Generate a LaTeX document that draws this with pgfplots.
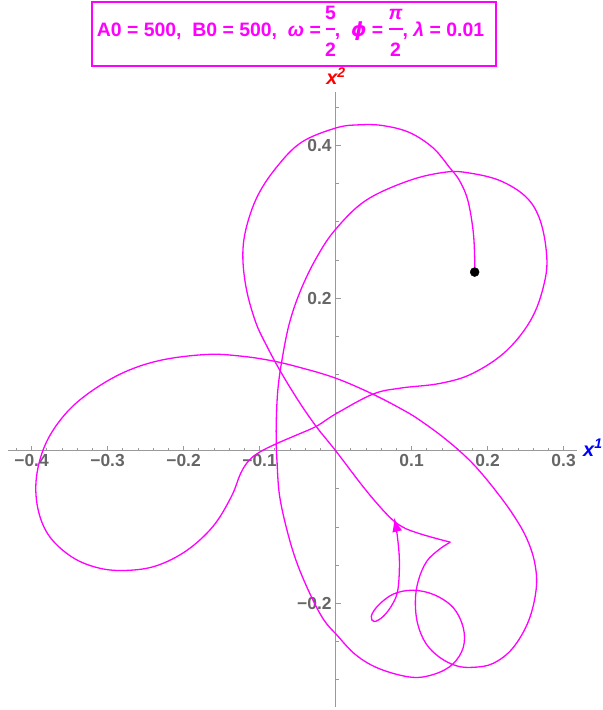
\documentclass[border=0pt]{standalone}
\usepackage{fontspec}
\setmainfont{Liberation Sans}
\newfontfamily\dejavu{DejaVu Sans}
\usepackage{pgfplots}
\pgfplotsset{compat=1.18}
\usetikzlibrary{arrows.meta}

\definecolor{traj}{rgb}{1,0,1}
\definecolor{axgray}{gray}{0.6}
\definecolor{labgray}{gray}{0.4}

% stacked fraction: numerator, bar, denominator
\newcommand{\fr}[3]{%
  \makebox[0pt][l]{\makebox[#3]{\raisebox{17.5bp}{#1}}}%
  \makebox[0pt][l]{\makebox[#3]{\raisebox{6.8bp}{\rule{#3}{1.9bp}}}}%
  \makebox[#3]{\raisebox{-20bp}{#2}}}

\begin{document}
\begin{tikzpicture}
\useasboundingbox (0,0) rectangle (603bp,710bp);
\begin{axis}[
  at={(8bp,3bp)}, anchor=south west,
  scale only axis, width=568.5bp, height=615bp,
  xmin=-0.431, xmax=0.317, ymin=-0.336, ymax=0.47,
  axis lines=middle, clip=false,
  axis line style={-, draw=axgray, line width=0.8bp},
  xtick={-0.4,-0.3,-0.2,-0.1,0.1,0.2,0.3},
  xticklabels={−0.4,−0.3,−0.2,−0.1,0.1,0.2,0.3},
  ytick={-0.2,0.2,0.4},
  yticklabels={−0.2,0.2,0.4},
  minor xtick={-0.42,-0.38,-0.36,-0.34,-0.32,-0.28,-0.26,-0.24,-0.22,-0.18,-0.16,-0.14,-0.12,-0.08,-0.06,-0.04,-0.02,0.02,0.04,0.06,0.08,0.12,0.14,0.16,0.18,0.22,0.24,0.26,0.28},
  minor ytick={-0.3,-0.25,-0.15,-0.1,-0.05,0.05,0.1,0.15,0.25,0.3,0.35,0.45},
  tick align=inside,
  major tick length=5bp, minor tick length=3bp,
  every tick/.style={draw=axgray, line width=0.6bp},
  ticklabel style={font=\bfseries\fontsize{17.5}{17.5}\selectfont, text=labgray},
  xticklabel style={anchor=north, yshift=-0.5bp},
  yticklabel style={anchor=east, xshift=-0.5bp},
  xlabel={\bfseries\itshape x\textsuperscript{1}},
  ylabel={\bfseries\itshape x\textsuperscript{2}},
  xlabel style={at={(axis description cs:1.0114,0.408)}, anchor=base west, inner sep=0pt,
    text=blue, font=\fontsize{20}{20}\selectfont},
  ylabel style={at={(axis description cs:0.577,1.0114)}, anchor=base, inner sep=0pt, rotate=0,
    text=red, font=\fontsize{20}{20}\selectfont},
]
% trajectory from the start point to the cusp
\addplot[traj, line width=1.3bp, smooth, tension=0.6] coordinates {
(0.183,0.234) (0.183,0.253) (0.181,0.288) (0.174,0.328) (0.163,0.354)
(0.150,0.371) (0.128,0.397) (0.097,0.417) (0.062,0.426) (0.032,0.427)
(0.001,0.423) (-0.045,0.404) (-0.078,0.371) (-0.103,0.333) (-0.118,0.290)
(-0.122,0.253) (-0.117,0.210) (-0.105,0.168) (-0.092,0.140) (-0.072,0.103)
(-0.048,0.064) (-0.025,0.031) (0,0) (0.040,-0.052) (0.070,-0.086)
(0.088,-0.100) (0.108,-0.108) (0.132,-0.115) (0.151,-0.120)
};
% trajectory from the cusp to the end point
\addplot[traj, line width=1.3bp, smooth, tension=0.6, -{Latex[length=14bp,width=10bp]}] coordinates {
(0.151,-0.120) (0.137,-0.129) (0.120,-0.145) (0.109,-0.170) (0.105,-0.197)
(0.108,-0.227) (0.119,-0.253) (0.137,-0.271) (0.159,-0.282) (0.181,-0.284)
(0.207,-0.279) (0.233,-0.259) (0.254,-0.223) (0.264,-0.181) (0.262,-0.147)
(0.251,-0.114) (0.233,-0.083) (0.211,-0.053) (0.187,-0.024) (0.166,-0.003)
(0.141,0.018) (0.115,0.037) (0.093,0.051) (0.049,0.074) (0,0.095)
(-0.047,0.109) (-0.085,0.118) (-0.126,0.124) (-0.170,0.126) (-0.232,0.118)
(-0.284,0.100) (-0.332,0.070) (-0.363,0.039) (-0.384,0.003) (-0.394,-0.039)
(-0.391,-0.079) (-0.376,-0.113) (-0.346,-0.140) (-0.311,-0.154) (-0.275,-0.157)
(-0.236,-0.151) (-0.196,-0.131) (-0.161,-0.099) (-0.137,-0.060) (-0.125,-0.030)
(-0.114,-0.013) (-0.100,-0.002) (-0.078,0.009) (-0.050,0.021) (-0.025,0.032)
(0,0.048) (0.049,0.074) (0.086,0.082) (0.137,0.088) (0.180,0.101)
(0.225,0.131) (0.259,0.175) (0.276,0.226) (0.277,0.264) (0.268,0.305)
(0.250,0.333) (0.216,0.354) (0.175,0.364) (0.145,0.365) (0.097,0.354)
(0.040,0.328) (0,0.290) (-0.025,0.253) (-0.046,0.210) (-0.061,0.166)
(-0.071,0.116) (-0.076,0.079) (-0.078,0.039) (-0.078,0.008) (-0.077,-0.015)
(-0.074,-0.057) (-0.065,-0.100) (-0.052,-0.144) (-0.034,-0.187) (-0.016,-0.221)
(0.002,-0.242) (0.027,-0.268) (0.058,-0.286) (0.100,-0.297) (0.130,-0.293)
(0.154,-0.280) (0.168,-0.258) (0.168,-0.232) (0.155,-0.206) (0.130,-0.189)
(0.102,-0.183) (0.076,-0.188) (0.056,-0.203) (0.047,-0.217) (0.051,-0.224)
(0.063,-0.217) (0.075,-0.201) (0.082,-0.182) (0.084,-0.145) (0.081,-0.110)
(0.077,-0.088)
};
% start point
\addplot[only marks, mark=*, mark size=4.5bp, black] coordinates {(0.183,0.234)};
\end{axis}
% parameter box
\draw[traj, line width=2.7bp] (92bp,644bp) rectangle (496bp,708bp);
\node[anchor=base, inner sep=0pt, text=traj, font=\bfseries\fontsize{19.5}{19.5}\selectfont]
  at (290.5bp,673bp)
  {A0 = 500,\ \ B0 = 500,\ \ \textit{ω} = \fr{5}{2}{8.5bp},\ \ {\dejavu\bfseries\itshape ϕ} = \fr{\textit{π}}{2}{14bp}, \textit{λ} = 0.01};
\end{tikzpicture}
\end{document}
